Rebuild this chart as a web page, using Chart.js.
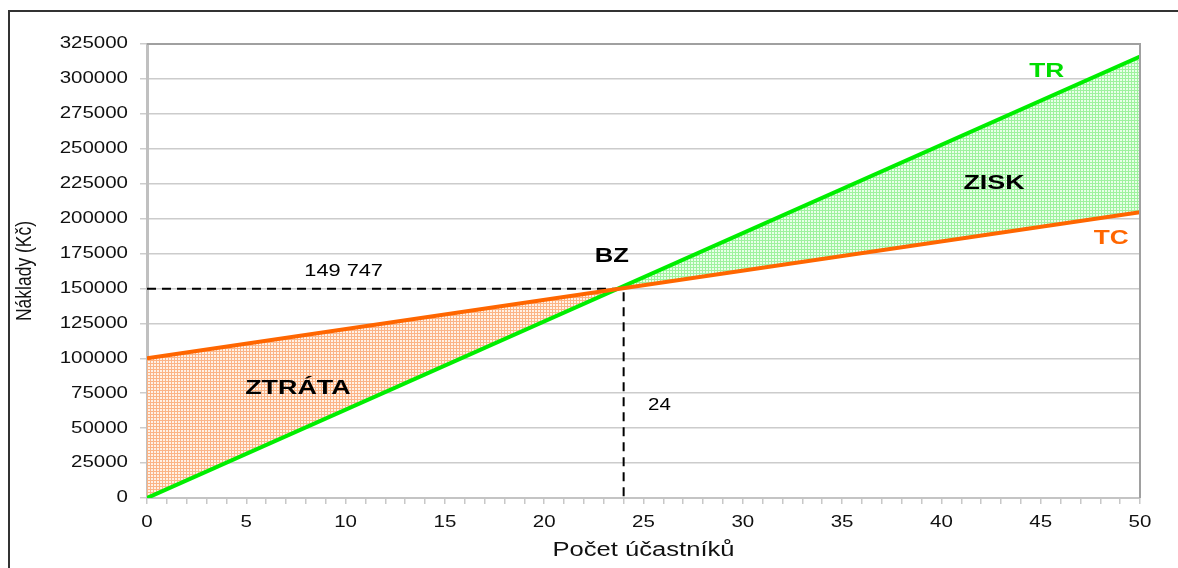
<!DOCTYPE html>
<html>
<head>
<meta charset="utf-8">
<script src="https://cdn.jsdelivr.net/npm/chart.js@4"></script>
<style>
  html, body { margin: 0; padding: 0; background: #fff; overflow: hidden; }
  #wrap { position: relative; width: 1178px; height: 568px; }
  #frame { position: absolute; left: 8px; top: 10px; width: 1300px; height: 700px;
           border-top: 2px solid #333; border-left: 2px solid #333; pointer-events: none; }
  canvas { position: absolute; left: 0; top: 0; }
</style>
</head>
<body>
<div id="wrap">
  <canvas id="c" width="1178" height="568"></canvas>
  <div id="frame"></div>
</div>
<script>
// ---- data ----
const participants = [0, 50];            // x values (Počet účastníků)
const totalCosts   = [100000, 204500];   // TC
const totalRevenue = [0, 316000];        // TR
const breakEvenX = 24;
const breakEvenY = 149747;
const breakEvenLabel = '149 747';
const breakEvenXLabel = '24';
const yTickStep = 25000;
const yMax = 325000;
const xMax = 50;

// ---- text annotations (data coordinates) ----
const notes = [
  { text: breakEvenLabel,  x: 9.9,  y: 162500, size: 17, bold: false, color: '#000' },
  { text: 'BZ',            x: 23.4, y: 172700, size: 20, bold: true,  color: '#000' },
  { text: 'ZTRÁTA',        x: 7.6,  y: 78300,  size: 21, bold: true,  color: '#000' },
  { text: 'ZISK',          x: 42.65,y: 225300, size: 21, bold: true,  color: '#000' },
  { text: 'TR',            x: 45.3, y: 305700, size: 20.5, bold: true, color: '#00dd00' },
  { text: 'TC',            x: 48.55,y: 186100, size: 20.5, bold: true, color: '#ff6600' },
  { text: breakEvenXLabel, x: 25.8, y: 65900,  size: 16, bold: false, color: '#000' }
];

const FONT = '"Liberation Sans", Arial, Helvetica, sans-serif';
const SX = 1.28; // horizontal widening of the glyphs as in the reference

const canvas = document.getElementById('c');
const ctx = canvas.getContext('2d');
// widen glyphs around their anchor point
const origFillText = ctx.fillText.bind(ctx);
ctx.fillText = function (text, x, y, maxWidth) {
  const m = this.getTransform();
  this.save();
  this.translate(x, y);
  if (Math.abs(m.b) > 0.5) this.scale(1, SX); else this.scale(SX, 1);
  if (maxWidth !== undefined) origFillText(text, 0, 0, maxWidth / SX);
  else origFillText(text, 0, 0);
  this.restore();
};

function makePattern(bg, line) {
  const p = document.createElement('canvas');
  p.width = 3; p.height = 3;
  const g = p.getContext('2d');
  g.fillStyle = bg; g.fillRect(0, 0, 3, 3);
  g.fillStyle = line; g.fillRect(0, 0, 3, 1); g.fillRect(0, 0, 1, 3);
  return ctx.createPattern(p, 'repeat');
}
const lossFill = makePattern('#fff1e6', '#fbb486');
const profitFill = makePattern('#e8ffe8', '#9ef29e');

const toPoints = (xs, ys) => xs.map((x, i) => ({ x: x, y: ys[i] }));

const frame = {
  id: 'frame',
  afterDatasetsDraw(chart) {
    const a = chart.chartArea, c = chart.ctx;
    c.save();
    c.strokeStyle = '#a0a0a0';
    c.lineWidth = 2;
    c.beginPath();
    c.moveTo(a.left, a.top); c.lineTo(a.right, a.top); c.lineTo(a.right, a.bottom);
    c.stroke();
    c.restore();
  }
};

const labels = {
  id: 'labels',
  afterDraw(chart) {
    const c = chart.ctx, xs = chart.scales.x, ys = chart.scales.y;
    c.save();
    c.textAlign = 'center';
    c.textBaseline = 'middle';
    notes.forEach(n => {
      c.font = (n.bold ? 'bold ' : '') + n.size + 'px ' + FONT;
      c.fillStyle = n.color;
      c.fillText(n.text, xs.getPixelForValue(n.x), ys.getPixelForValue(n.y));
    });
    c.restore();
  }
};

new Chart(ctx, {
  type: 'line',
  data: {
    datasets: [
      {
        label: 'TC',
        data: toPoints(participants, totalCosts),
        borderColor: '#ff6600',
        borderWidth: 4,
        pointRadius: 0,
        fill: { target: 1, above: lossFill, below: profitFill }
      },
      {
        label: 'TR',
        data: toPoints(participants, totalRevenue),
        borderColor: '#00ee00',
        borderWidth: 4,
        pointRadius: 0,
        fill: false
      },
      {
        label: 'BZ',
        data: [{ x: 0, y: breakEvenY }, { x: breakEvenX, y: breakEvenY }, { x: breakEvenX, y: 0 }],
        borderColor: '#000',
        borderWidth: 2,
        borderDash: [9, 6],
        pointRadius: 0,
        fill: false
      }
    ]
  },
  options: {
    responsive: false,
    animation: false,
    devicePixelRatio: 1,
    layout: { padding: { left: 10, top: 44, right: 38, bottom: 0 } },
    plugins: {
      legend: { display: false },
      tooltip: { enabled: false },
      filler: { drawTime: 'beforeDatasetsDraw' }
    },
    scales: {
      x: {
        type: 'linear',
        min: 0, max: xMax,
        afterFit(s) { s.height = 70; },
        ticks: {
          stepSize: 1, autoSkip: false, maxRotation: 0, padding: 9,
          color: '#111',
          font: { family: FONT, size: 16 },
          callback: v => (v % 5 === 0 ? String(v) : '')
        },
        grid: { drawOnChartArea: false, drawTicks: true, tickLength: 6, color: '#c8c8c8', lineWidth: 1.5 },
        border: { color: '#c4c4c4', width: 2 },
        title: { display: true, text: 'Počet účastníků', color: '#111',
                 font: { family: FONT, size: 20 }, padding: { top: 0, bottom: 6 } }
      },
      y: {
        min: 0, max: yMax,
        afterFit(s) { s.width = 137; },
        ticks: {
          stepSize: yTickStep, padding: 12, color: '#111',
          font: { family: FONT, size: 16 },
          callback: v => String(v)
        },
        grid: { color: '#cccccc', lineWidth: 1.5, tickLength: 7 },
        border: { color: '#c0c0c0', width: 3 },
        title: { display: true, text: 'Náklady (Kč)', color: '#111',
                 font: { family: FONT, size: 17.5 }, padding: { top: 4, bottom: 0 } }
      }
    }
  },
  plugins: [frame, labels]
});
</script>
</body>
</html>
